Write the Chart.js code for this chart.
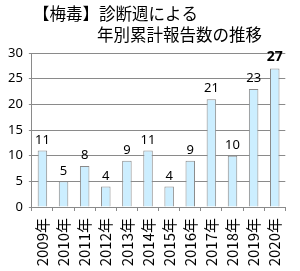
<!DOCTYPE html>
<html>
<head>
<meta charset="utf-8">
<script src="https://cdn.jsdelivr.net/npm/chart.js@4/dist/chart.umd.min.js"></script>
<style>
  html, body { margin: 0; padding: 0; background: #fff; }
  #wrap { width: 300px; height: 271px; }
</style>
</head>
<body>
<div id="wrap"><canvas id="bar-chart"></canvas></div>
<script>
const years = ['2009年', '2010年', '2011年', '2012年', '2013年', '2014年', '2015年', '2016年', '2017年', '2018年', '2019年', '2020年'];
const counts = [11, 5, 8, 4, 9, 11, 4, 9, 21, 10, 23, 27];
const yTicks = [0, 5, 10, 15, 20, 25, 30];
const titleLines = ['【梅毒】診断週による', '年別累計報告数の推移'];

const jpFont = "'Noto Sans CJK JP', 'Noto Sans', sans-serif";

const ctx = document.getElementById('bar-chart').getContext('2d');

new Chart(ctx, {
	type: 'bar',
	data: {
		labels: years,
		datasets: [{
			data: counts,
			backgroundColor: '#cceeff',
			borderColor: '#8a8a8a',
			borderWidth: 1,
			borderSkipped: 'bottom',
			barPercentage: 0.45,
			categoryPercentage: 1.0
		}]
	},
	options: {
		responsive: true,
		maintainAspectRatio: false,
		animation: false,
		layout: {
			padding: { top: 53, right: 6, left: 2, bottom: 0 }
		},
		plugins: {
			legend: { display: false },
			tooltip: { enabled: false }
		},
		scales: {
			x: {
				afterFit: function (axis) {
					axis.height = 64;
				},
				grid: {
					drawOnChartArea: false,
					drawTicks: true,
					tickLength: 4,
					color: '#8a8a8a'
				},
				border: { color: '#8a8a8a' },
				ticks: {
					color: '#000',
					font: { family: jpFont, size: 15 },
					minRotation: 90,
					maxRotation: 90,
					padding: 7
				}
			},
			y: {
				min: 0,
				max: 30,
				afterBuildTicks: function (axis) {
					axis.ticks = yTicks.map(v => ({ value: v }));
				},
				grid: {
					color: '#8a8a8a',
					tickLength: 3
				},
				border: { color: '#8a8a8a' },
				ticks: {
					color: '#000',
					font: { family: "'Noto Sans', sans-serif", size: 13 },
					padding: 6
				}
			}
		}
	},
	plugins: [{
		id: 'titleAndLabels',
		afterDatasetsDraw: function (chart) {
			const c = chart.ctx;
			const meta = chart.getDatasetMeta(0);
			c.save();
			c.fillStyle = '#000';
			c.textAlign = 'center';
			c.textBaseline = 'bottom';
			meta.data.forEach(function (bar, i) {
				const last = i === counts.length - 1;
				c.font = (last ? 'bold 14px ' : '13px ') + "'Noto Sans', sans-serif";
				c.fillText(String(counts[i]), bar.x, bar.y - 4);
			});

			c.font = '16.5px ' + jpFont;
			c.textAlign = 'left';
			c.textBaseline = 'middle';
			c.fillText(titleLines[0], 33, 14);
			c.fillText(titleLines[1], 97, 35);
			c.restore();
		}
	}]
});
</script>
</body>
</html>
